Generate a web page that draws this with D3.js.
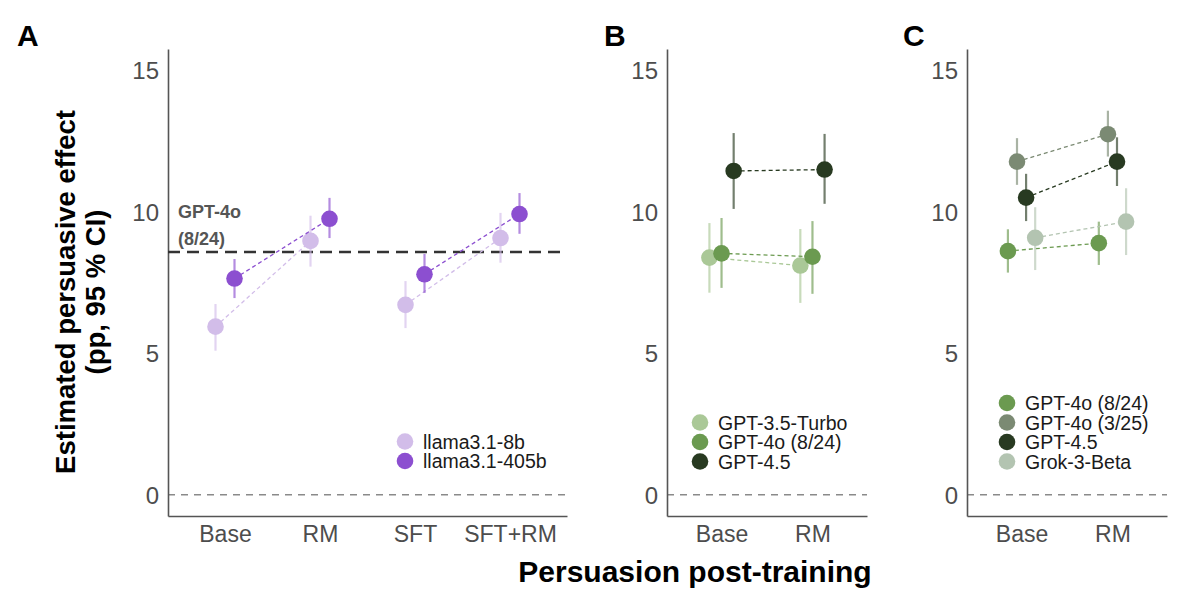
<!DOCTYPE html>
<html><head><meta charset="utf-8">
<script src="https://cdn.jsdelivr.net/npm/d3@7"></script>
<style>body{margin:0;background:#fff}svg{display:block;font-family:"Liberation Sans",Arial,sans-serif}</style>
</head><body>
<svg id="chart" width="1200" height="599"></svg>
<script>
// ---- data ----
const catsA = ["Base", "RM", "SFT", "SFT+RM"];
const catsBC = ["Base", "RM"];
const yTicks = [0, 5, 10, 15];
const refLabel = ["GPT-4o", "(8/24)"];
const refValue = 8.58;

const seriesA = ["llama3.1-8b", "llama3.1-405b"];
const llama8bEst = [5.94, 8.97, 6.71, 9.07];
const llama8bLo  = [5.09, 8.06, 5.89, 8.20];
const llama8bHi  = [6.74, 9.86, 7.55, 9.96];
const llama405bEst = [7.64, 9.75, 7.79, 9.92];
const llama405bLo  = [6.95, 9.07, 7.13, 9.22];
const llama405bHi  = [8.33, 10.49, 8.51, 10.66];

const seriesB = ["GPT-3.5-Turbo", "GPT-4o (8/24)", "GPT-4.5"];
const gpt35Est = [8.38, 8.10], gpt35Lo = [7.14, 6.78], gpt35Hi = [9.60, 9.39];
const gpt4oBEst = [8.53, 8.41], gpt4oBLo = [7.31, 7.10], gpt4oBHi = [9.78, 9.67];
const gpt45BEst = [11.44, 11.49], gpt45BLo = [10.10, 10.28], gpt45BHi = [12.78, 12.75];

const seriesC = ["GPT-4o (8/24)", "GPT-4o (3/25)", "GPT-4.5", "Grok-3-Beta"];
const gpt4oCEst = [8.61, 8.89], gpt4oCLo = [7.85, 8.12], gpt4oCHi = [9.38, 9.65];
const gpt4o325Est = [11.77, 12.74], gpt4o325Lo = [10.95, 11.95], gpt4o325Hi = [12.60, 13.57];
const gpt45CEst = [10.50, 11.77], gpt45CLo = [9.67, 10.91], gpt45CHi = [11.34, 12.63];
const grokEst = [9.08, 9.65], grokLo = [7.94, 8.47], grokHi = [10.16, 10.83];

const colors = {
  "llama3.1-8b": "#d2bde9", "llama3.1-405b": "#8c4fd0",
  "GPT-3.5-Turbo": "#aac897", "GPT-4o (8/24)": "#6b9a50", "GPT-4.5": "#283a21",
  "GPT-4o (3/25)": "#7b8a73", "Grok-3-Beta": "#b3c4b1"
};

// ---- layout ----
const svg = d3.select("#chart");
const y = d3.scaleLinear().domain([-0.75, 15.75]).range([516, 49]);
const dodgeWidth = 0.4;
const legendStep = 19.5;

const panels = [
  { letter: "A", lx: 17, x0: 168, x1: 567, cats: catsA, pairs: [[0,1],[2,3]],
    series: [
      { name: seriesA[0], est: llama8bEst, lo: llama8bLo, hi: llama8bHi },
      { name: seriesA[1], est: llama405bEst, lo: llama405bLo, hi: llama405bHi }],
    legend: { x: 405, y: 441.5 }, ref: true },
  { letter: "B", lx: 604, x0: 667, x1: 867, cats: catsBC, pairs: [[0,1]],
    series: [
      { name: seriesB[0], est: gpt35Est, lo: gpt35Lo, hi: gpt35Hi },
      { name: seriesB[1], est: gpt4oBEst, lo: gpt4oBLo, hi: gpt4oBHi },
      { name: seriesB[2], est: gpt45BEst, lo: gpt45BLo, hi: gpt45BHi }],
    legend: { x: 700, y: 422.5 } },
  { letter: "C", lx: 903, x0: 967, x1: 1167, cats: catsBC, pairs: [[0,1]],
    series: [
      { name: seriesC[0], est: gpt4oCEst, lo: gpt4oCLo, hi: gpt4oCHi },
      { name: seriesC[1], est: gpt4o325Est, lo: gpt4o325Lo, hi: gpt4o325Hi },
      { name: seriesC[2], est: gpt45CEst, lo: gpt45CLo, hi: gpt45CHi },
      { name: seriesC[3], est: grokEst, lo: grokLo, hi: grokHi }],
    legend: { x: 1007, y: 403 } }
];

panels.forEach(p => {
  const x = d3.scalePoint().domain(p.cats).range([p.x0, p.x1]).padding(0.6);
  const step = x.step();
  const n = p.series.length;
  const off = i => ((i + 0.5) / n - 0.5) * dodgeWidth * step;
  const g = svg.append("g");

  // zero line
  g.append("line").attr("x1", p.x0).attr("x2", p.x1).attr("y1", y(0)).attr("y2", y(0))
    .attr("stroke", "#8a8a8a").attr("stroke-width", 1.4).attr("stroke-dasharray", "7,6");

  // axes
  const ya = g.append("g").attr("transform", `translate(${p.x0},0)`)
    .call(d3.axisLeft(y).tickValues(yTicks).tickSize(0).tickPadding(9));
  ya.select(".domain").attr("stroke", "#555").attr("stroke-width", 1.6);
  ya.selectAll("text").attr("font-size", 24).attr("fill", "#4d4d4d")
    .attr("font-family", "Liberation Sans, Arial, sans-serif").attr("dy", "0.36em");

  const xa = g.append("g").attr("transform", `translate(0,${y.range()[0]})`)
    .call(d3.axisBottom(x).tickSize(0).tickPadding(9));
  xa.select(".domain").attr("stroke", "#555").attr("stroke-width", 1.6);
  xa.selectAll("text").attr("font-size", 23).attr("fill", "#4d4d4d")
    .attr("font-family", "Liberation Sans, Arial, sans-serif").attr("dy", "0.75em");

  // reference line
  if (p.ref) {
    g.append("line").attr("x1", p.x0).attr("x2", p.x1).attr("y1", y(refValue)).attr("y2", y(refValue))
      .attr("stroke", "#333").attr("stroke-width", 2.4).attr("stroke-dasharray", "12,7");
    refLabel.forEach((t, i) => g.append("text").attr("x", p.x0 + 10).attr("y", 218 + i * 27)
      .attr("font-size", 18).attr("font-weight", "bold").attr("fill", "#555").text(t));
  }

  // series
  p.series.forEach((s, si) => {
    const c = colors[s.name];
    const px = ci => x(p.cats[ci]) + off(si);
    p.pairs.forEach(([a, b]) => {
      g.append("line").attr("x1", px(a)).attr("y1", y(s.est[a])).attr("x2", px(b)).attr("y2", y(s.est[b]))
        .attr("stroke", c).attr("stroke-width", 1.3).attr("stroke-dasharray", "4,3");
    });
    p.cats.forEach((cat, ci) => {
      g.append("line").attr("x1", px(ci)).attr("x2", px(ci)).attr("y1", y(s.lo[ci])).attr("y2", y(s.hi[ci]))
        .attr("stroke", c).attr("stroke-width", 2.2).attr("stroke-opacity", 0.65);
      g.append("circle").attr("cx", px(ci)).attr("cy", y(s.est[ci])).attr("r", 8.3).attr("fill", c);
    });
  });

  // legend
  p.series.forEach((s, si) => {
    const ly = p.legend.y + si * legendStep;
    g.append("circle").attr("cx", p.legend.x).attr("cy", ly).attr("r", 8.3).attr("fill", colors[s.name]);
    g.append("text").attr("x", p.legend.x + 18).attr("y", ly).attr("dy", "0.36em")
      .attr("font-size", 19.5).attr("fill", "#1a1a1a").text(s.name);
  });

  // panel letter
  svg.append("text").attr("x", p.lx).attr("y", 46).attr("font-size", 30).attr("font-weight", "bold")
    .attr("fill", "#000").text(p.letter);
});

// axis titles
const yt = svg.append("text").attr("transform", "translate(0,292) rotate(-90)")
  .attr("text-anchor", "middle").attr("font-size", 27.5).attr("font-weight", "bold").attr("fill", "#000");
yt.append("tspan").attr("x", 0).attr("y", 75).text("Estimated persuasive effect");
yt.append("tspan").attr("x", 0).attr("y", 105).text("(pp, 95 % CI)");

svg.append("text").attr("x", 695).attr("y", 582).attr("text-anchor", "middle")
  .attr("font-size", 30).attr("font-weight", "bold").attr("fill", "#000").text("Persuasion post-training");
</script>
</body></html>
